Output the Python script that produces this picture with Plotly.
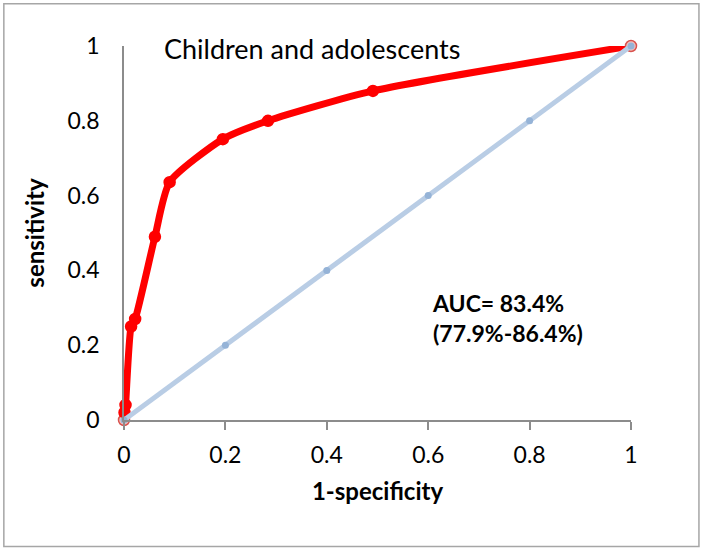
import plotly.graph_objects as go

# ROC curve points
roc_x = [0, 0.001, 0.003, 0.014, 0.022, 0.061, 0.09, 0.195, 0.284, 0.491, 1]
roc_y = [0, 0.02, 0.04, 0.25, 0.27, 0.49, 0.636, 0.751, 0.80, 0.88, 1]

# reference diagonal
ref_x = [0, 0.2, 0.4, 0.6, 0.8, 1]
ref_y = [0, 0.2, 0.4, 0.6, 0.8, 1]

tick_vals = [0, 0.2, 0.4, 0.6, 0.8, 1]
tick_text = ["0", "0.2", "0.4", "0.6", "0.8", "1"]

FONT = "Lato, 'Open Sans', sans-serif"

n = len(roc_x)
fills = ["#F2C4C0" if i in (0, n - 1) else "#FF0000" for i in range(n)]
outlines = ["#D9534F" if i in (0, n - 1) else "#FF0000" for i in range(n)]

fig = go.Figure()
fig.add_trace(go.Scatter(
    x=roc_x, y=roc_y, mode="lines+markers",
    line=dict(color="#FF0000", width=7, shape="spline", smoothing=0.6),
    marker=dict(size=11, color=fills, line=dict(color=outlines, width=1.5)),
    cliponaxis=False, showlegend=False,
))
fig.add_trace(go.Scatter(
    x=ref_x, y=ref_y, mode="lines+markers",
    line=dict(color="#B9CDE5", width=5),
    marker=dict(size=7, color="#95B3D7"),
    cliponaxis=False, showlegend=False,
))

fig.add_annotation(x=0.075, y=0.992, xref="x", yref="y", text="Children and adolescents",
                   showarrow=False, xanchor="left", yanchor="middle",
                   font=dict(family=FONT, size=27, color="#000000"))
fig.add_annotation(x=0.604, y=0.273, xref="x", yref="y",
                   text="<b>AUC= 83.4%</b><br><b>(77.9%-86.4%)</b>",
                   showarrow=False, xanchor="left", yanchor="middle", align="left",
                   font=dict(family=FONT, size=23, color="#000000"))

# outer chart frame
fig.add_shape(type="rect", xref="paper", yref="paper",
              x0=-0.237, x1=1.134, y0=-0.338, y1=1.113,
              line=dict(color="#A6A6A6", width=1.5))

fig.update_xaxes(
    range=[0, 1], tickvals=tick_vals, ticktext=tick_text,
    showgrid=False, zeroline=False, showline=True, linecolor="#8C8C8C", linewidth=1.5,
    ticks="outside", ticklen=8, tickcolor="#8C8C8C", tickwidth=1.5,
    ticklabelstandoff=6,
    tickfont=dict(family=FONT, size=23, color="#000000"),
    title=dict(text="<b>1-specificity</b>", standoff=16,
               font=dict(family=FONT, size=24, color="#000000")),
)
fig.update_yaxes(
    range=[0, 1], tickvals=tick_vals, ticktext=tick_text,
    showgrid=False, zeroline=False, showline=True, linecolor="#8C8C8C", linewidth=1.5,
    ticks="", ticklabelstandoff=18,
    tickfont=dict(family=FONT, size=23, color="#000000"),
    title=dict(text="<b>sensitivity</b>", standoff=16,
               font=dict(family=FONT, size=24, color="#000000")),
)

fig.update_layout(
    width=704, height=551,
    margin=dict(l=124, r=73, t=46, b=131),
    paper_bgcolor="white", plot_bgcolor="white",
)

# drop the browser's default body margin so the figure sits at the page corner
fig.write_html("out.html", config={"displayModeBar": False},
               post_script="document.body.style.margin='0';")
